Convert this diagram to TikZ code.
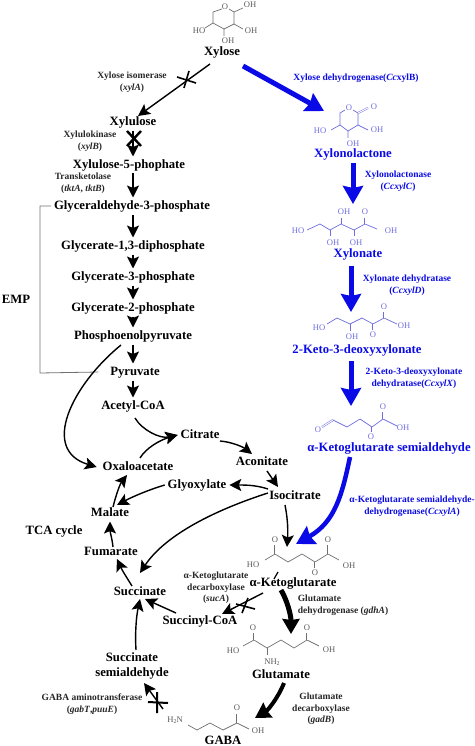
\documentclass[tikz,border=0pt]{standalone}
\usepackage{fontspec}
\setmainfont{Liberation Serif}
\usetikzlibrary{arrows.meta}
\definecolor{bluemain}{HTML}{0A0AE6}
\definecolor{bluebond}{HTML}{6E6EE0}
\definecolor{graybond}{HTML}{707070}
\tikzset{
  x=1pt,y=-1pt,
  met/.style={font=\fontsize{12.7}{13}\selectfont\bfseries,inner sep=0pt,outer sep=3pt,text height=8.5pt,text depth=2.5pt},
  bmet/.style={met,text=bluemain},
  enz/.style={font=\fontsize{9.5}{11.6}\selectfont\bfseries,inner sep=0pt,align=center,text=black!85},
  benz/.style={enz,text=bluemain},
  arr/.style={draw=black,line width=1.4pt,-{Stealth[length=12pt,width=12pt,inset=2.5pt]}},
  thick arr/.style={draw=black,line width=5pt,-{Stealth[length=15pt,width=17pt,inset=1pt]}},
  blue arr/.style={draw=bluemain,line width=5pt,-{Stealth[length=18pt,width=20pt,inset=2pt]}},
  stopmark/.style={draw=black,line width=1.6pt},
  bond/.style={draw=graybond,line width=.7pt},
  bbond/.style={draw=bluebond,line width=.7pt},
  atom/.style={font=\fontsize{8.6}{9}\selectfont,inner sep=0pt,text=black!65},
  batom/.style={atom,text=bluebond},
  dbl/.style={double,double distance=1pt,line width=.5pt},
}
\begin{document}
\begin{tikzpicture}
\useasboundingbox (0,0) rectangle (474,746);
\coordinate (spine) at (133,0);
% ---------- metabolites, left column
\node[met] (xylose) at (222,53) {Xylose};
\node[met] (xylulose) at (133,123) {Xylulose};
\node[met] (x5p) at (129,165) {Xylulose-5-phophate};
\node[met] (g3p) at (132,206) {Glyceraldehyde-3-phosphate};
\node[met] (g13) at (133,246) {Glycerate-1,3-diphosphate};
\node[met] (g3) at (133,277) {Glycerate-3-phosphate};
\node[met] (g2) at (133,308) {Glycerate-2-phosphate};
\node[met] (pep) at (133,336) {Phosphoenolpyruvate};
\node[met] (pyr) at (135,372) {Pyruvate};
\node[met] (acoa) at (133,406) {Acetyl-CoA};
\node[met] (emp) at (16,300) {EMP};
\node[met] (citrate) at (200,435) {Citrate};
\node[met] (aconitate) at (262,462) {Aconitate};
\node[met] (oaa) at (138,467) {Oxaloacetate};
\node[met] (glyox) at (197,485) {Glyoxylate};
\node[met] (iso) at (295,496) {Isocitrate};
\node[met] (malate) at (110,513) {Malate};
\node[met] (tca) at (54,531) {TCA cycle};
\node[met] (fumarate) at (111,552) {Fumarate};
\node[met] (succ) at (140,592) {Succinate};
\node[met] (scoa) at (200,621) {Succinyl-CoA};
\node[met] (akg) at (293,583) {α-Ketoglutarate};
\node[met,align=center,text height=,text depth=,font=\fontsize{12.7}{15.8}\selectfont\bfseries] (ssa) at (132,666) {Succinate\\semialdehyde};
\node[met] (glu) at (281,675) {Glutamate};
\node[met] (gaba) at (223,741) {GABA};
% ---------- metabolites, blue column
\node[bmet] (xln) at (353,155) {Xylonolactone};
\node[bmet] (xyn) at (358,254) {Xylonate};
\node[bmet] (kdx) at (357,350) {2-Keto-3-deoxyxylonate};
\node[bmet] (ksa) at (389,448) {α-Ketoglutarate semialdehyde};
% ---------- enzymes
\node[enz] (e1) at (132,82) {Xylose isomerase\\(\textit{xylA})};
\node[enz] (e2) at (90,141) {Xylulokinase\\(\textit{xylB})};
\node[enz] (e3) at (83,183) {Transketolase\\(\textit{tktA}, \textit{tktB})};
\node[enz] (e4) at (216,588) {α-Ketoglutarate\\decarboxylase\\(\textit{sucA})};
\node[enz,align=left] (e5) at (343,605) {Glutamate\\dehydrogenase (\textit{gdhA})};
\node[enz] (e6) at (321,709) {Glutamate\\decarboxylase\\(\textit{gadB})};
\node[enz] (e7) at (92,704) {GABA aminotransferase\\(\textit{gabT},\textit{puuE})};
\node[benz] (b1) at (356,78) {Xylose dehydrogenase(\textit{Cc}xylB)};
\node[benz] (b2) at (398,181) {Xylonolactonase\\(\textit{CcxylC})};
\node[benz] (b3) at (407,285) {Xylonate dehydratase\\(\textit{CcxylD})};
\node[benz] (b4) at (414,378) {2-Keto-3-deoxyxylonate\\dehydratase(\textit{CcxylX})};
\node[benz] (b5) at (412,506) {α-Ketoglutarate semialdehyde-\\dehydrogenase(\textit{CcxylA})};
% ---------- free ends at the structures
\coordinate (xlnin) at (324,111);
\coordinate (xynin) at (353,204);
\coordinate (kdxin) at (351,312);
\coordinate (ksain) at (351,406);
\coordinate (akgb) at (296,544);
\coordinate (akgk) at (287,547);
\coordinate (gluin) at (291,634);
\coordinate (gabain) at (255,718);
% ---------- EMP bracket
\draw[draw=graybond,line width=.8pt] (g3p.west) -- (40,206) -- (40,373) -- ([xshift=-9pt]pyr.west);
% ---------- glycolysis
\draw[arr] ([shift={(-12,11)}]xylose.center) -- ([shift={(5,-7)}]xylulose.center);
\draw[arr] (xylulose.south -| spine) -- (x5p.north -| spine);
\draw[arr] (x5p.south -| spine) -- (g3p.north -| spine);
\draw[arr] (g3p.south -| spine) -- (g13.north -| spine);
\draw[arr] (g13.south -| spine) -- (g3.north -| spine);
\draw[arr] (g3.south -| spine) -- (g2.north -| spine);
\draw[arr] (g2.south -| spine) -- (pep.north -| spine);
\draw[arr] (pep.south -| spine) -- (pyr.north -| spine);
\draw[arr] (pyr.south -| spine) -- (acoa.north -| spine);
% ---------- TCA
\draw[arr] ([shift={(-12,9)}]pep.center) .. controls (72,385) and (40,450) .. ([xshift=-3pt]oaa.west);
\draw[arr] ([shift={(2,12)}]acoa.center) .. controls (142,430) and (160,439) .. (citrate.west);
\draw[arr] ([shift={(2,-9)}]oaa.center) .. controls (146,448) and (160,440) .. (citrate.west);
\draw[arr] ([shift={(20,6)}]citrate.center) .. controls (232,442) and (243,447) .. ([shift={(-10,-8)}]aconitate.center);
\draw[arr] ([shift={(5,9)}]aconitate.center) -- ([shift={(-17,-9)}]iso.center);
\draw[arr] ([shift={(-27,-7)}]iso.center) .. controls (256,485) and (245,485) .. (glyox.east);
\draw[arr] (glyox.west) .. controls (148,490) and (132,497) .. ([shift={(7,-8)}]malate.center);
\draw[arr] ([shift={(3,-6)}]malate.center) .. controls (116,495) and (120,484) .. ([shift={(-11,8)}]oaa.center);
\draw[arr] ([shift={(2,-5)}]fumarate.center) .. controls (112,538) and (110,532) .. (malate.south);
\draw[arr] ([shift={(-8,-6)}]succ.center) .. controls (127,578) and (122,570) .. ([shift={(6,7)}]fumarate.center);
\draw[arr] ([shift={(-27,-3)}]iso.center) .. controls (215,510) and (165,535) .. ([shift={(0,-19)}]succ.center);
\draw[arr] ([shift={(-10,9)}]iso.center) .. controls (288,520) and (288,532) .. (akgk);
\draw[draw=black,line width=1.2pt] ([shift={(-15,-11)}]akg.center) -- ([shift={(-19,-4)}]akg.center);
\draw[arr] ([shift={(-30,10)}]akg.center) -- ([shift={(22,-7)}]scoa.center);
\draw[arr] ([shift={(-24,-8)}]scoa.center) -- ([shift={(5,7)}]succ.center);
\draw[arr] ([shift={(4,-16)}]ssa.center) .. controls (135,635) and (136,618) .. ([shift={(0,7)}]succ.center);
\draw[arr] ([shift={(31,43)}]ssa.center) -- ([shift={(12,17)}]ssa.center);
% ---------- thick black
\draw[thick arr] ([shift={(-12,7)}]akg.center) .. controls (287,600) and (291,615) .. (gluin);
\draw[thick arr,line width=4pt] ([shift={(3,8)}]glu.center) .. controls (278,698) and (268,710) .. (gabain);
% ---------- blue
\draw[blue arr] ([shift={(21,13)}]xylose.center) -- (xlnin);
\draw[blue arr] (xln.south -| xynin) -- (xynin);
\draw[blue arr] ([shift={(-7,12)}]xyn.center) -- (kdxin);
\draw[blue arr] ([shift={(-6,11)}]kdx.center) -- (ksain);
\draw[blue arr,line width=4.5pt] ([shift={(-39,9)}]ksa.center) .. controls (342,495) and (335,522) .. (akgb);
% ---------- stop marks
\draw[stopmark] (177,77) -- (196,83) (184,88) -- (189,71);
\draw[stopmark,line width=2.4pt] (127,131) -- (141,146) (141,131) -- (127,146);
\draw[stopmark] (236,604) -- (255,609) (242,613) -- (248,598);
\draw[stopmark,line width=2pt] (148,702) -- (168,703) (157,692) -- (157,713);
% ---------- xylose structure
\draw[bond] (222,9) -- (213,12) -- (213,23) -- (224,29) -- (234,24) -- (234,12) -- (229,9);
\draw[bond] (234,12) -- (243,8) (213,23) -- (205,28) (234,24) -- (243,29) (224,29) -- (224,36);
\node[atom] (a1) at (225,7) {O};
\node[atom] (a2) at (250,5) {OH};
\node[atom] (a3) at (199,31) {HO};
\node[atom] (a4) at (251,31) {OH};
\node[atom] (a5) at (228,41) {OH};
% ---------- xylonolactone structure
\draw[bbond] (345,110) -- (340,113) -- (340,125) -- (348,131) -- (358,125) -- (358,113) -- (353,110);
\draw[bbond] (340,125) -- (331,130) (358,125) -- (368,130) (348,131) -- (348,138);
\draw[bbond,dbl] (358,113) -- (368,108);
\node[batom] (c1) at (349,108) {O};
\node[batom] (c2) at (374,107) {O};
\node[batom] (c3) at (320,131) {HO};
\node[batom] (c4) at (377,130) {OH};
\node[batom] (c5) at (353,144) {OH};
% ---------- xylonate structure
\draw[bbond] (307,230) -- (320,224) -- (330,230) -- (341,224) -- (354,230) -- (365,224) -- (377,229);
\draw[bbond] (341,224) -- (341,218) (330,230) -- (330,236) (354,230) -- (354,236);
\draw[bbond,dbl] (365,224) -- (365,218);
\node[batom] (d1) at (298,231) {HO};
\node[batom] (d2) at (344,212) {OH};
\node[batom] (d3) at (365,212) {O};
\node[batom] (d4) at (391,231) {OH};
\node[batom] (d5) at (333,243) {OH};
\node[batom] (d6) at (356,243) {OH};
% ---------- 2-keto-3-deoxyxylonate structure
\draw[bbond] (327,324) -- (337,318) -- (350,324) -- (362,318) -- (373,324) -- (384,318) -- (397,324);
\draw[bbond] (350,324) -- (350,331);
\draw[bbond,dbl] (373,324) -- (373,330);
\draw[bbond,dbl] (384,318) -- (384,312);
\node[batom] (f1) at (319,328) {HO};
\node[batom] (f2) at (352,337) {OH};
\node[batom] (f3) at (373,335) {O};
\node[batom] (f4) at (384,307) {O};
\node[batom] (f5) at (404,326) {OH};
% ---------- semialdehyde structure
\draw[bbond,dbl] (322,427) -- (333,420);
\draw[bbond] (333,420) -- (347,427) -- (360,419) -- (372,427) -- (383,419) -- (397,426);
\draw[bbond,dbl] (372,427) -- (372,432);
\draw[bbond,dbl] (383,419) -- (383,412);
\node[batom] (g1) at (318,430) {O};
\node[batom] (g2o) at (371,437) {O};
\node[batom] (g3o) at (383,407) {O};
\node[batom] (g4) at (403,428) {OH};
% ---------- alpha-ketoglutarate structure
\draw[bond] (265,560) -- (275,554) -- (288,562) -- (302,554) -- (315,562) -- (328,554) -- (339,560);
\draw[bond,dbl] (275,554) -- (275,545);
\draw[bond,dbl] (328,554) -- (328,545);
\draw[bond,dbl] (315,562) -- (315,568);
\node[atom] (h1) at (275,540) {O};
\node[atom] (h2) at (328,540) {O};
\node[atom] (h3) at (253,565) {HO};
\node[atom] (h4) at (349,566) {OH};
\node[atom] (h5) at (315,572.5) {O};
% ---------- glutamate structure
\draw[bond] (243,646) -- (254,640) -- (267,648) -- (281,640) -- (294,648) -- (307,640) -- (319,646);
\draw[bond,dbl] (254,640) -- (254,633);
\draw[bond,dbl] (307,640) -- (307,633);
\draw[bond] (267,648) -- (267,655);
\node[atom] (j1) at (253,628) {O};
\node[atom] (j2) at (307,628) {O};
\node[atom] (j3) at (233,651) {HO};
\node[atom] (j4) at (329,650) {OH};
\node[atom] (j5) at (272,662) {NH\raisebox{-1.5pt}{\fontsize{6}{6}\selectfont 2}};
% ---------- GABA structure
\draw[bond] (188,725) -- (197,730) -- (210,723) -- (223,730) -- (237,723) -- (249,729);
\draw[bond,dbl] (237,723) -- (237,714);
\node[atom] (k1) at (175,720) {H\raisebox{-1.5pt}{\fontsize{6}{6}\selectfont 2}N};
\node[atom] (k2) at (237,708) {O};
\node[atom] (k3) at (258,731) {OH};
\end{tikzpicture}
\end{document}
